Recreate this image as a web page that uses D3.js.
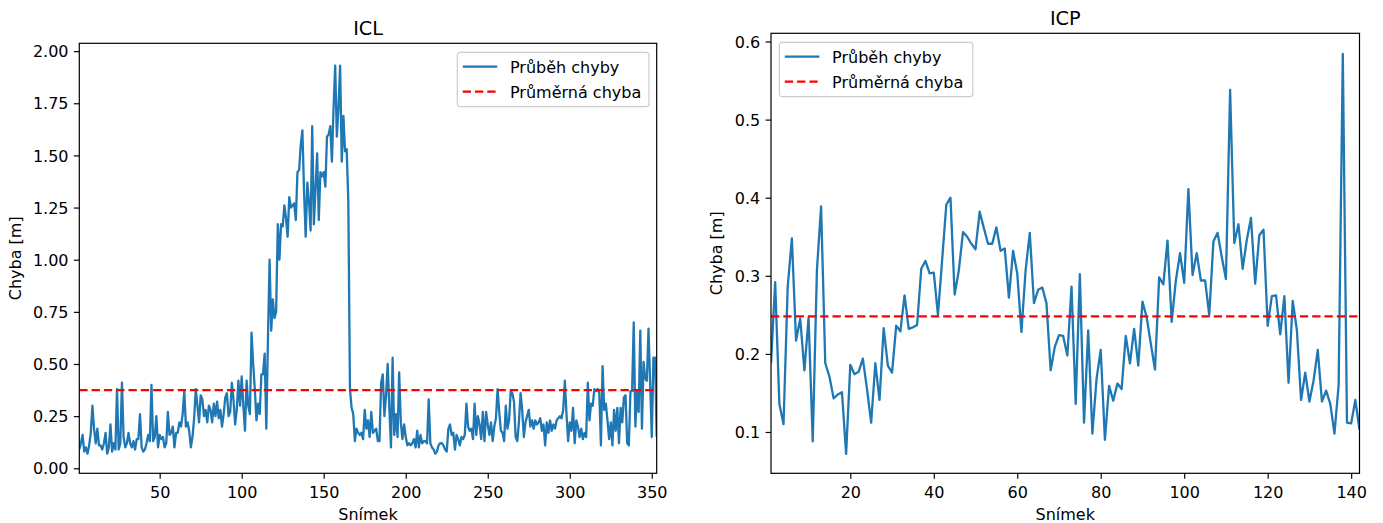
<!DOCTYPE html>
<html>
<head>
<meta charset="utf-8">
<script src="https://cdnjs.cloudflare.com/ajax/libs/d3/7.8.5/d3.min.js"></script>
<style>
  body { margin: 0; background: #fff; }
  svg text { font-family: "DejaVu Sans", sans-serif; fill: #000; }
</style>
</head>
<body>
<svg id="chart" width="1383" height="523"></svg>
<script>
// ICL error per frame (frames 1..353)
const iclErrors = [
  0.09, 0.12, 0.16, 0.08, 0.10, 0.07, 0.11, 0.17, 0.30, 0.19,
  0.12, 0.19, 0.11, 0.11, 0.09, 0.12, 0.17, 0.07, 0.10, 0.21,
  0.08, 0.12, 0.09, 0.38, 0.09, 0.12, 0.41, 0.15, 0.10, 0.12,
  0.17, 0.12, 0.10, 0.13, 0.09, 0.14, 0.14, 0.26, 0.10, 0.08,
  0.09, 0.12, 0.16, 0.13, 0.40, 0.13, 0.15, 0.25, 0.10, 0.16,
  0.14, 0.15, 0.10, 0.12, 0.27, 0.16, 0.17, 0.20, 0.10, 0.17,
  0.17, 0.22, 0.20, 0.26, 0.37, 0.20, 0.22, 0.18, 0.10, 0.15,
  0.24, 0.38, 0.30, 0.22, 0.35, 0.33, 0.25, 0.28, 0.22, 0.30,
  0.28, 0.22, 0.31, 0.25, 0.32, 0.24, 0.28, 0.20, 0.26, 0.34,
  0.36, 0.25, 0.27, 0.41, 0.33, 0.21, 0.28, 0.42, 0.30, 0.44,
  0.30, 0.18, 0.42, 0.30, 0.26, 0.65, 0.50, 0.38, 0.23, 0.31,
  0.26, 0.45, 0.45, 0.55, 0.19, 0.62, 1.00, 0.66, 0.81, 0.72,
  0.75, 1.17, 1.00, 1.17, 1.16, 1.26, 1.20, 1.11, 1.30, 1.25,
  1.26, 1.27, 1.19, 1.42, 1.43, 1.55, 1.62, 1.33, 1.11, 1.37,
  1.28, 1.14, 1.64, 1.17, 1.34, 1.51, 1.19, 1.42, 1.40, 1.42,
  1.35, 1.59, 1.60, 1.64, 1.47, 1.73, 1.93, 1.59, 1.73, 1.93,
  1.47, 1.69, 1.52, 1.53, 1.28, 0.38, 0.29, 0.26, 0.13, 0.19,
  0.17, 0.16, 0.17, 0.14, 0.28, 0.19, 0.23, 0.15, 0.27, 0.17,
  0.18, 0.19, 0.13, 0.13, 0.41, 0.45, 0.25, 0.35, 0.50, 0.29,
  0.10, 0.53, 0.16, 0.26, 0.15, 0.46, 0.22, 0.14, 0.21, 0.15,
  0.11, 0.12, 0.11, 0.12, 0.14, 0.10, 0.18, 0.10, 0.16, 0.12,
  0.13, 0.13, 0.12, 0.33, 0.12, 0.10, 0.09, 0.07, 0.08, 0.11,
  0.12, 0.12, 0.11, 0.09, 0.08, 0.19, 0.21, 0.16, 0.17, 0.09,
  0.16, 0.14, 0.11, 0.15, 0.14, 0.16, 0.31, 0.20, 0.18, 0.19,
  0.14, 0.31, 0.16, 0.25, 0.21, 0.14, 0.27, 0.13, 0.27, 0.21,
  0.16, 0.22, 0.13, 0.20, 0.24, 0.38, 0.27, 0.18, 0.17, 0.13,
  0.30, 0.19, 0.23, 0.37, 0.36, 0.32, 0.15, 0.13, 0.22, 0.36,
  0.28, 0.15, 0.22, 0.25, 0.28, 0.20, 0.23, 0.19, 0.23, 0.21,
  0.22, 0.24, 0.18, 0.21, 0.11, 0.22, 0.17, 0.23, 0.18, 0.21,
  0.19, 0.23, 0.24, 0.25, 0.24, 0.28, 0.42, 0.26, 0.13, 0.22,
  0.18, 0.29, 0.12, 0.23, 0.20, 0.15, 0.19, 0.14, 0.17, 0.15,
  0.41, 0.23, 0.31, 0.30, 0.38, 0.37, 0.38, 0.36, 0.11, 0.49,
  0.28, 0.31, 0.23, 0.14, 0.22, 0.11, 0.28, 0.18, 0.29, 0.12,
  0.29, 0.22, 0.34, 0.35, 0.12, 0.11, 0.37, 0.37, 0.70, 0.20,
  0.37, 0.27, 0.66, 0.19, 0.51, 0.43, 0.42, 0.67, 0.41, 0.15,
  0.53, 0.53, 0.15
];
const iclMean = 0.375;

// ICP error per frame (frames 1..142)
const icpErrors = [
  0.188, 0.292, 0.136, 0.110, 0.286, 0.348, 0.217, 0.245, 0.179, 0.246,
  0.088, 0.307, 0.389, 0.188, 0.171, 0.143, 0.148, 0.151, 0.072, 0.186,
  0.174, 0.177, 0.194, 0.155, 0.112, 0.188, 0.141, 0.233, 0.185, 0.176,
  0.236, 0.229, 0.275, 0.232, 0.234, 0.237, 0.309, 0.319, 0.303, 0.304,
  0.250, 0.320, 0.391, 0.400, 0.276, 0.307, 0.356, 0.350, 0.341, 0.334,
  0.382, 0.361, 0.341, 0.341, 0.362, 0.332, 0.335, 0.272, 0.332, 0.303,
  0.228, 0.307, 0.355, 0.265, 0.282, 0.285, 0.265, 0.179, 0.209, 0.224,
  0.223, 0.198, 0.286, 0.136, 0.302, 0.112, 0.230, 0.098, 0.168, 0.205,
  0.090, 0.159, 0.140, 0.162, 0.155, 0.223, 0.188, 0.232, 0.185, 0.267,
  0.247, 0.213, 0.180, 0.298, 0.289, 0.345, 0.241, 0.294, 0.329, 0.291,
  0.411, 0.301, 0.329, 0.294, 0.294, 0.250, 0.344, 0.355, 0.324, 0.296,
  0.538, 0.342, 0.366, 0.309, 0.346, 0.374, 0.290, 0.352, 0.359, 0.236,
  0.274, 0.275, 0.225, 0.274, 0.163, 0.268, 0.230, 0.141, 0.176, 0.139,
  0.166, 0.205, 0.139, 0.153, 0.136, 0.098, 0.160, 0.584, 0.112, 0.111,
  0.141, 0.103
];
const icpMean = 0.248;

// Tick values
const iclXTicks = [50, 100, 150, 200, 250, 300, 350];
const iclYTicks = [0, 0.25, 0.5, 0.75, 1.0, 1.25, 1.5, 1.75, 2.0];
const icpXTicks = [20, 40, 60, 80, 100, 120, 140];
const icpYTicks = [0.1, 0.2, 0.3, 0.4, 0.5, 0.6];
const legendLabels = ["Průběh chyby", "Průměrná chyba"];

const svg = d3.select("#chart");
const fontSize = 16;
const tickLen = 5.4;
const dash = "8.3,4";

function drawPanel(p, idx) {
    const x = d3.scaleLinear().domain([1, p.values.length]).range([p.left, p.right]);
    const y = d3.scaleLinear().domain(p.yDomain).range([p.bottom, p.top]);

    const g = svg.append("g");

    g.append("clipPath").attr("id", "clip" + idx)
        .append("rect")
        .attr("x", p.left).attr("y", p.top)
        .attr("width", p.right - p.left).attr("height", p.bottom - p.top);

    // error line
    const line = d3.line().x((d, i) => x(i + 1)).y(d => y(d));
    g.append("path")
        .datum(p.values)
        .attr("clip-path", `url(#clip${idx})`)
        .attr("d", line)
        .attr("fill", "none")
        .attr("stroke", "#1f77b4")
        .attr("stroke-width", 2.3)
        .attr("stroke-linejoin", "round");

    // mean line
    g.append("line")
        .attr("x1", p.left).attr("x2", p.right)
        .attr("y1", y(p.mean)).attr("y2", y(p.mean))
        .attr("stroke", "#ff0000")
        .attr("stroke-width", 2.3)
        .attr("stroke-dasharray", dash);

    // axes
    const xAxis = g.append("g")
        .attr("transform", `translate(0, ${p.bottom})`)
        .call(d3.axisBottom(x).tickValues(p.xTicks).tickSize(tickLen).tickPadding(tickLen).tickSizeOuter(0));
    xAxis.selectAll("text").attr("dy", "0.88em");

    const yAxis = g.append("g")
        .attr("transform", `translate(${p.left}, 0)`)
        .call(d3.axisLeft(y).tickValues(p.yTicks).tickFormat(d3.format(p.yFormat))
            .tickSize(tickLen).tickPadding(tickLen).tickSizeOuter(0));
    yAxis.selectAll("text").attr("dy", "0.35em");

    [xAxis, yAxis].forEach(a => {
        a.select(".domain").remove();
        a.selectAll("line").attr("stroke", "#000").attr("stroke-width", 1.2);
        a.selectAll("text")
            .attr("fill", "#000")
            .style("font-family", "'DejaVu Sans', sans-serif")
            .style("font-size", fontSize + "px");
    });

    // frame
    g.append("rect")
        .attr("x", p.left).attr("y", p.top)
        .attr("width", p.right - p.left).attr("height", p.bottom - p.top)
        .attr("fill", "none")
        .attr("stroke", "#000")
        .attr("stroke-width", 1.2);

    // title and labels
    g.append("text")
        .attr("x", (p.left + p.right) / 2).attr("y", p.top - 8.5)
        .attr("text-anchor", "middle")
        .style("font-size", "19.2px")
        .text(p.title);

    g.append("text")
        .attr("x", (p.left + p.right) / 2).attr("y", 519.5)
        .attr("text-anchor", "middle")
        .style("font-size", fontSize + "px")
        .text("Snímek");

    g.append("text")
        .attr("transform", `translate(${p.yLabelX}, ${(p.top + p.bottom) / 2}) rotate(-90)`)
        .attr("text-anchor", "middle")
        .style("font-size", fontSize + "px")
        .text("Chyba [m]");

    // legend
    const lg = g.append("g").attr("transform", `translate(${p.legend[0]}, ${p.legend[1]})`);
    lg.append("rect")
        .attr("width", p.legend[2]).attr("height", 54.4)
        .attr("rx", 3)
        .attr("fill", "#fff").attr("fill-opacity", 0.8)
        .attr("stroke", "#cccccc").attr("stroke-width", 1.2);

    const styles = [
        { color: "#1f77b4", dash: null },
        { color: "#ff0000", dash: dash }
    ];
    legendLabels.forEach((label, i) => {
        const ry = 14.4 + i * 25;
        lg.append("line")
            .attr("x1", 5.4).attr("x2", 40)
            .attr("y1", ry).attr("y2", ry)
            .attr("stroke", styles[i].color)
            .attr("stroke-width", 2.3)
            .attr("stroke-dasharray", styles[i].dash);
        lg.append("text")
            .attr("x", 52.7).attr("y", ry + 6.2)
            .style("font-size", fontSize + "px")
            .text(label);
    });
}

drawPanel({
    values: iclErrors, mean: iclMean, title: "ICL",
    left: 79.3, right: 656.7, top: 43.3, bottom: 473.3,
    yDomain: [-0.024, 2.0375],
    xTicks: iclXTicks, yTicks: iclYTicks, yFormat: ".2f",
    yLabelX: 21.2,
    legend: [457.3, 52.3, 191.7]
}, 0);

drawPanel({
    values: icpErrors, mean: icpMean, title: "ICP",
    left: 771, right: 1359.5, top: 33.3, bottom: 473.3,
    yDomain: [0.0471, 0.6105],
    xTicks: icpXTicks, yTicks: icpYTicks, yFormat: ".1f",
    yLabelX: 721.5,
    legend: [779.4, 42.3, 193.4]
}, 1);
</script>
</body>
</html>
